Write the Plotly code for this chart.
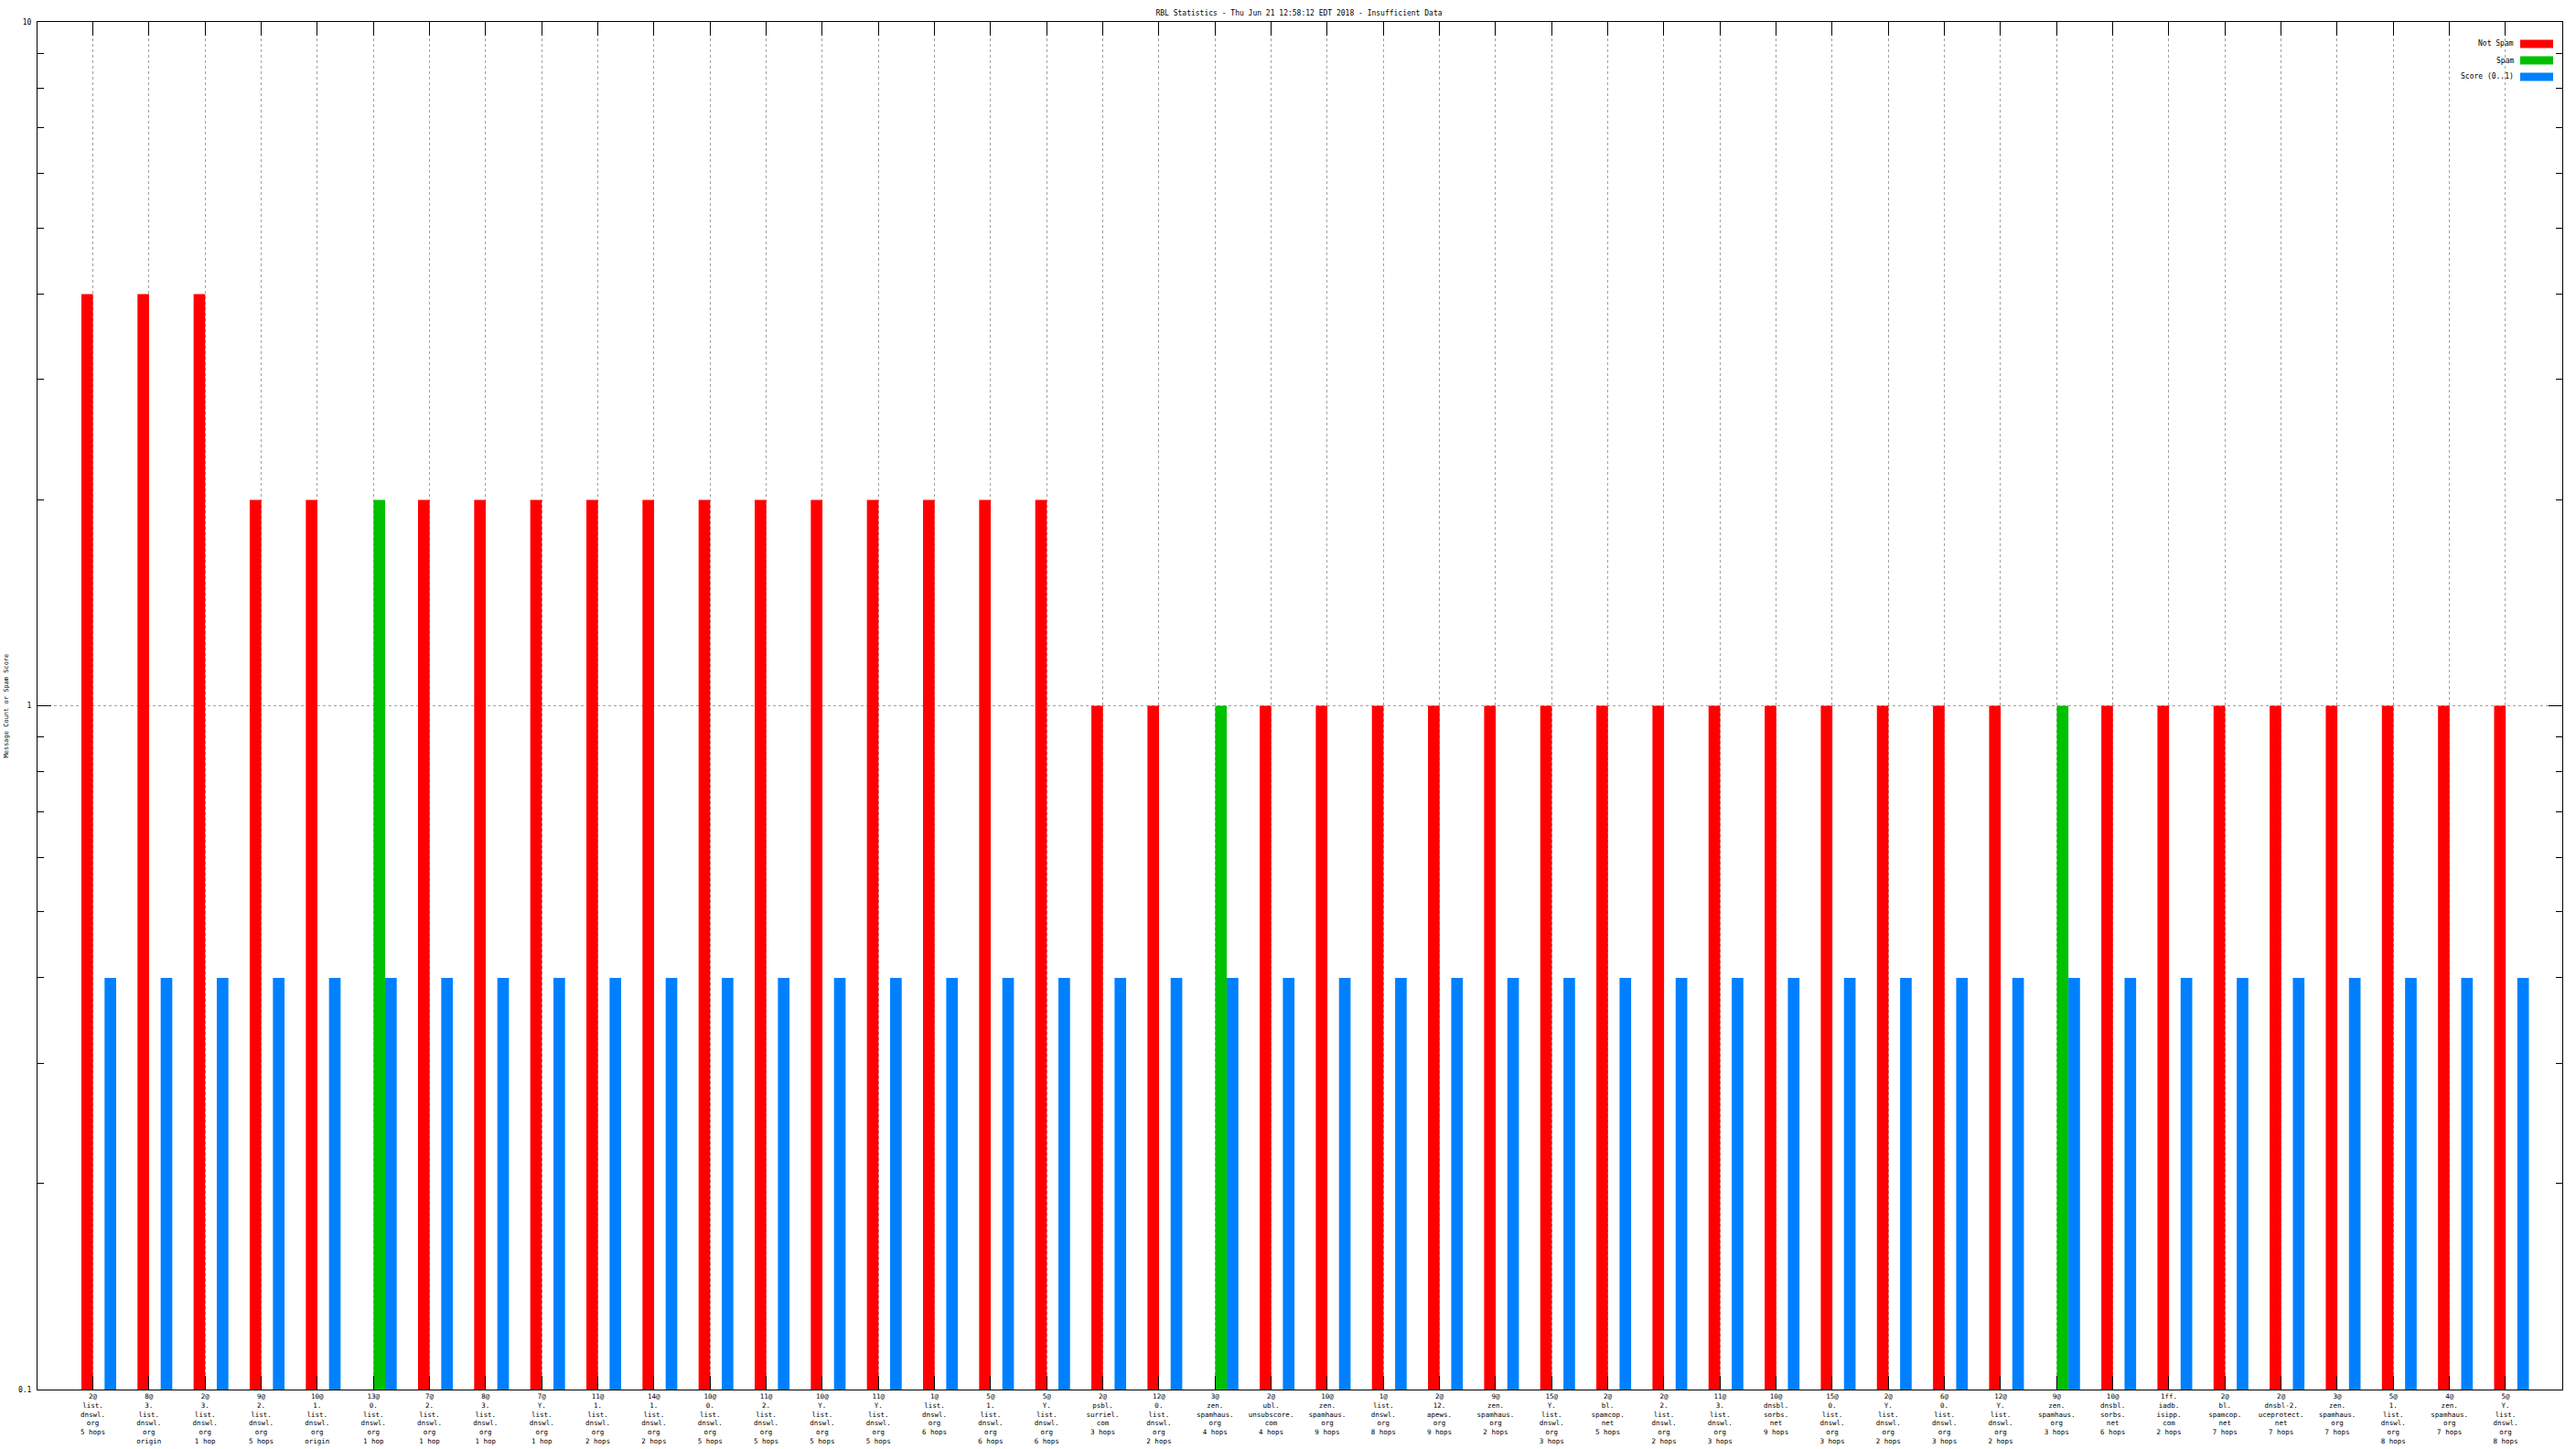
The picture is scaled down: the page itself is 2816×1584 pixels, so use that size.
import plotly.graph_objects as go

# ---- data ----
categories = [
    "2@<br>list.<br>dnswl.<br>org<br>5 hops",
    "8@<br>3.<br>list.<br>dnswl.<br>org<br>origin",
    "2@<br>3.<br>list.<br>dnswl.<br>org<br>1 hop",
    "9@<br>2.<br>list.<br>dnswl.<br>org<br>5 hops",
    "10@<br>1.<br>list.<br>dnswl.<br>org<br>origin",
    "13@<br>0.<br>list.<br>dnswl.<br>org<br>1 hop",
    "7@<br>2.<br>list.<br>dnswl.<br>org<br>1 hop",
    "8@<br>3.<br>list.<br>dnswl.<br>org<br>1 hop",
    "7@<br>Y.<br>list.<br>dnswl.<br>org<br>1 hop",
    "11@<br>1.<br>list.<br>dnswl.<br>org<br>2 hops",
    "14@<br>1.<br>list.<br>dnswl.<br>org<br>2 hops",
    "10@<br>0.<br>list.<br>dnswl.<br>org<br>5 hops",
    "11@<br>2.<br>list.<br>dnswl.<br>org<br>5 hops",
    "10@<br>Y.<br>list.<br>dnswl.<br>org<br>5 hops",
    "11@<br>Y.<br>list.<br>dnswl.<br>org<br>5 hops",
    "1@<br>list.<br>dnswl.<br>org<br>6 hops",
    "5@<br>1.<br>list.<br>dnswl.<br>org<br>6 hops",
    "5@<br>Y.<br>list.<br>dnswl.<br>org<br>6 hops",
    "2@<br>psbl.<br>surriel.<br>com<br>3 hops",
    "12@<br>0.<br>list.<br>dnswl.<br>org<br>2 hops",
    "3@<br>zen.<br>spamhaus.<br>org<br>4 hops",
    "2@<br>ubl.<br>unsubscore.<br>com<br>4 hops",
    "10@<br>zen.<br>spamhaus.<br>org<br>9 hops",
    "1@<br>list.<br>dnswl.<br>org<br>8 hops",
    "2@<br>12.<br>apews.<br>org<br>9 hops",
    "9@<br>zen.<br>spamhaus.<br>org<br>2 hops",
    "15@<br>Y.<br>list.<br>dnswl.<br>org<br>3 hops",
    "2@<br>bl.<br>spamcop.<br>net<br>5 hops",
    "2@<br>2.<br>list.<br>dnswl.<br>org<br>2 hops",
    "11@<br>3.<br>list.<br>dnswl.<br>org<br>3 hops",
    "10@<br>dnsbl.<br>sorbs.<br>net<br>9 hops",
    "15@<br>0.<br>list.<br>dnswl.<br>org<br>3 hops",
    "2@<br>Y.<br>list.<br>dnswl.<br>org<br>2 hops",
    "6@<br>0.<br>list.<br>dnswl.<br>org<br>3 hops",
    "12@<br>Y.<br>list.<br>dnswl.<br>org<br>2 hops",
    "9@<br>zen.<br>spamhaus.<br>org<br>3 hops",
    "10@<br>dnsbl.<br>sorbs.<br>net<br>6 hops",
    "1ff.<br>iadb.<br>isipp.<br>com<br>2 hops",
    "2@<br>bl.<br>spamcop.<br>net<br>7 hops",
    "2@<br>dnsbl-2.<br>uceprotect.<br>net<br>7 hops",
    "3@<br>zen.<br>spamhaus.<br>org<br>7 hops",
    "5@<br>1.<br>list.<br>dnswl.<br>org<br>8 hops",
    "4@<br>zen.<br>spamhaus.<br>org<br>7 hops",
    "5@<br>Y.<br>list.<br>dnswl.<br>org<br>8 hops",
]

not_spam = [4, 4, 4, 2, 2, None, 2, 2, 2, 2, 2, 2, 2, 2, 2, 2, 2, 2,
            1, 1, None, 1, 1, 1, 1, 1, 1, 1, 1, 1, 1, 1, 1, 1, 1, None,
            1, 1, 1, 1, 1, 1, 1, 1]
spam = [None] * 5 + [2] + [None] * 14 + [1] + [None] * 14 + [1] + [None] * 8
score = [0.4] * 44

series_names = ["Not Spam", "Spam", "Score (0..1)"]
series_colors = ["#ff0000", "#00c000", "#0080ff"]

y_major = [0.1, 1, 10]
y_major_text = ["0.1", "1", "10"]
y_minor = [0.2, 0.3, 0.4, 0.5, 0.6, 0.7, 0.8, 0.9, 2, 3, 4, 5, 6, 7, 8, 9]

title_text = "RBL Statistics - Thu Jun 21 12:58:12 EDT 2018 - Insufficient Data"
ytitle_text = "Message Count or Spam Score"

# ---- layout constants (pixels) ----
W, H = 2816, 1584
ML, MR, MT, MB = 41, 15, 24, 65
PW, PH = W - ML - MR, H - MT - MB
FONT = "DejaVu Sans Mono"

# all y ticks (major + minor) on the main axis, labels only on majors
y_all = sorted(y_major + y_minor)
y_all_text = [y_major_text[y_major.index(v)] if v in y_major else "" for v in y_all]

x = list(range(len(categories)))
fig = go.Figure()
for name, vals, col in zip(series_names, [not_spam, spam, score], series_colors):
    fig.add_trace(go.Bar(x=x, y=vals, name=name, marker=dict(color=col, line=dict(width=0)),
                         showlegend=False))
# empty helper trace so the major-tick overlay axis is drawn
fig.add_trace(go.Scatter(x=[None], y=[None], yaxis="y2", showlegend=False, hoverinfo="skip"))

fig.update_layout(
    width=W, height=H,
    margin=dict(l=ML, r=MR, t=MT, b=MB, pad=0, autoexpand=False),
    paper_bgcolor="white", plot_bgcolor="white",
    barmode="group", bargap=0.38, bargroupgap=0,
    font=dict(family=FONT, size=8, color="black"),
    title=dict(text=title_text, x=1420 / W, xref="container", y=1 - 14.5 / H, yref="container",
               xanchor="center", yanchor="middle", font=dict(size=8), automargin=False),
    xaxis=dict(
        range=[-1.092, 43.905], automargin=False,
        tickmode="array", tickvals=[i - 0.106 for i in x], ticktext=categories,
        ticks="inside", ticklen=15, tickcolor="black", tickwidth=1,
        showline=True, linecolor="black", linewidth=1, mirror="ticks",
        showgrid=True, gridcolor="#a0a0a0", griddash="dot", gridwidth=1,
        tickfont=dict(size=7.5), tickangle=0, zeroline=False,
    ),
    yaxis=dict(
        type="log", range=[-1, 1], automargin=False,
        tickmode="array", tickvals=y_all, ticktext=y_all_text,
        ticks="inside", ticklen=7, tickcolor="black", tickwidth=1,
        showline=True, linecolor="black", linewidth=1, mirror="ticks",
        showgrid=False, tickfont=dict(size=8), ticklabelstandoff=4, zeroline=False,
    ),
    yaxis2=dict(
        overlaying="y", side="left", type="log", range=[-1, 1], automargin=False,
        tickmode="array", tickvals=y_major, ticks="inside", ticklen=15,
        tickcolor="black", tickwidth=1, showticklabels=False,
        showline=False, mirror="ticks",
        showgrid=True, gridcolor="#a0a0a0", griddash="dot", gridwidth=1, zeroline=False,
    ),
)

# y-axis title
fig.add_annotation(text=ytitle_text, xref="paper", yref="paper",
                   x=(6 - ML) / PW, y=0.5, textangle=-90, showarrow=False,
                   xanchor="center", yanchor="middle", font=dict(size=7))

# legend (gnuplot style: text then swatch, top right)
for k, (name, col) in enumerate(zip(series_names, series_colors)):
    cy = 48 + 18 * k
    yp = 1 - (cy - MT) / PH
    fig.add_annotation(text=name, xref="paper", yref="paper",
                       x=(2750 - ML) / PW, y=yp, xanchor="right", yanchor="middle",
                       showarrow=False, font=dict(size=8))
    fig.add_shape(type="rect", xref="paper", yref="paper",
                  x0=(2755 - ML) / PW, x1=(2791 - ML) / PW,
                  y0=yp - 4.5 / PH, y1=yp + 4.5 / PH,
                  fillcolor=col, line=dict(width=0))

fig.write_html("out.html", config={"displayModeBar": False},
               post_script="document.body.style.margin='0';")
